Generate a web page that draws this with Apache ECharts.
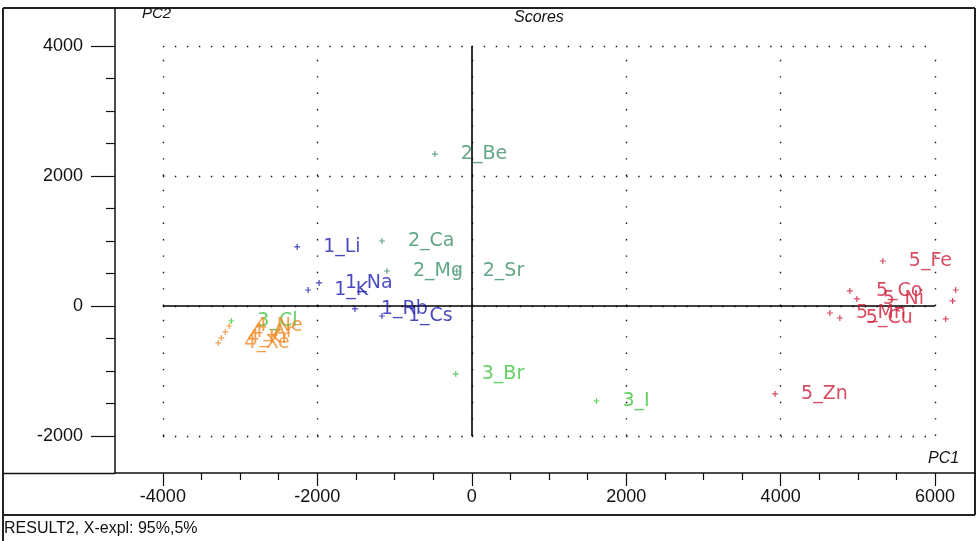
<!DOCTYPE html>
<html>
<head>
<meta charset="utf-8">
<script src="https://cdn.jsdelivr.net/npm/echarts@6.0.0/dist/echarts.min.js"></script>
<style>
html,body{margin:0;padding:0;background:#fff;}
#chart{width:977px;height:541px;}
</style>
</head>
<body>
<div id="chart"></div>
<script>
// ---- data ----
var names1 = ['1_Li', '1_K', '1_Na', '1_Rb', '1_Cs'];
var x1 = [-2261, -2119, -1977, -1512, -1163];
var y1 = [908, 246, 354, -46, -154];

var names2 = ['2_Be', '2_Ca', '2_Mg', '2_Sr'];
var x2 = [-478, -1163, -1098, -194];
var y2 = [2338, 1000, 538, 538];

var names3 = ['3_Cl', '3_Br', '3_I'];
var x3 = [-3114, -207, 1615];
var y3 = [-231, -1046, -1462];

var names4 = ['4_Ne', '4_Ar', '4_Kr', '4_Xe'];
var x4 = [-3140, -3191, -3243, -3282];
var y4 = [-308, -400, -492, -569];

var names5 = ['5_Fe', '5_Co', '5_Ni', '5_Mn', '5_Cu', '5_Zn', '', '', ''];
var x5 = [5323, 4897, 4987, 4638, 4767, 3928, 6266, 6227, 6137];
var y5 = [692, 231, 108, -108, -185, -1354, 246, 77, -200];

var xTicks = [-4000, -2000, 0, 2000, 4000, 6000];
var yTicks = [-2000, 0, 2000, 4000];
var xMinor = [-3500, -3000, -2500, -1500, -1000, -500, 500, 1000, 1500, 2500, 3000, 3500, 4500, 5000, 5500];
var yMinor = [-1500, -1000, -500, 500, 1000, 1500, 2500, 3000, 3500];

var xMin = -4620, xMax = 6517, yMin = -2570, yMax = 4585;

// ---- helpers ----
function pts(xs, ys, ns) {
  return xs.map(function (x, i) { return { name: ns[i], value: [x, ys[i]] }; });
}
var plus = 'path://M-0.6,-3H0.6V-0.6H3V0.6H0.6V3H-0.6V0.6H-3V-0.6H-0.6Z';
var labelFont = '"DejaVu Sans", "Liberation Sans", sans-serif';
var tickFont = '"Liberation Sans", sans-serif';
function group(ns, xs, ys, color) {
  return {
    type: 'scatter',
    symbol: plus,
    symbolSize: 6,
    itemStyle: { color: color },
    data: pts(xs, ys, ns),
    label: {
      show: true,
      position: 'right',
      distance: 23,
      formatter: function (p) { return p.name; },
      color: color,
      fontFamily: labelFont,
      fontSize: 19
    },
    silent: true,
    z: 5
  };
}
function plain(v) { return String(v); }

var dotStyle = { color: '#111', width: 1.4, type: [1.4, 10.6], cap: 'butt' };
var gridLines = [];
xTicks.forEach(function (x) {
  for (var i = 0; i < yTicks.length - 1; i++) {
    gridLines.push([{ coord: [x, yTicks[i]], lineStyle: { type: [1.4, 15] } }, { coord: [x, yTicks[i + 1]] }]);
  }
});
yTicks.forEach(function (y) {
  for (var i = 0; i < xTicks.length - 1; i++) {
    gridLines.push([{ coord: [xTicks[i], y] }, { coord: [xTicks[i + 1], y] }]);
  }
});
var axisCross = [
  [{ coord: [xTicks[0], 0] }, { coord: [xTicks[xTicks.length - 1], 0] }],
  [{ coord: [0, yTicks[0]] }, { coord: [0, yTicks[yTicks.length - 1]] }]
];

var chart = echarts.init(document.getElementById('chart'));
chart.setOption({
  animation: false,
  backgroundColor: '#fff',
  grid: { left: 115, top: 8, right: 2, bottom: 68 },
  xAxis: [
    {
      type: 'value', min: xMin, max: xMax,
      axisLine: { show: true, onZero: false, lineStyle: { color: '#111', width: 1.5 } },
      axisTick: { show: true, customValues: xTicks, length: 13, lineStyle: { color: '#111', width: 1.2 } },
      axisLabel: { customValues: xTicks, formatter: plain, margin: 15, color: '#111', fontFamily: tickFont, fontSize: 18 },
      splitLine: { show: false }
    },
    {
      type: 'value', min: xMin, max: xMax, position: 'bottom',
      axisLine: { show: false, onZero: false },
      axisTick: { show: true, customValues: xMinor, length: 7, lineStyle: { color: '#111', width: 1.2 } },
      axisLabel: { show: false },
      splitLine: { show: false }
    }
  ],
  yAxis: [
    {
      type: 'value', min: yMin, max: yMax,
      axisLine: { show: true, onZero: false, lineStyle: { color: '#111', width: 1.5 } },
      axisTick: { show: true, customValues: yTicks, length: 24, lineStyle: { color: '#111', width: 1.2 } },
      axisLabel: { customValues: yTicks, formatter: plain, margin: 32, color: '#111', fontFamily: tickFont, fontSize: 18 },
      splitLine: { show: false }
    },
    {
      type: 'value', min: yMin, max: yMax, position: 'left',
      axisLine: { show: false, onZero: false },
      axisTick: { show: true, customValues: yMinor, length: 9, lineStyle: { color: '#111', width: 1.2 } },
      axisLabel: { show: false },
      splitLine: { show: false }
    }
  ],
  graphic: [
    { type: 'line', shape: { x1: 3, y1: 8, x2: 975, y2: 8 }, style: { stroke: '#222', lineWidth: 2 } },
    { type: 'line', shape: { x1: 3, y1: 8, x2: 3, y2: 541 }, style: { stroke: '#222', lineWidth: 2 } },
    { type: 'line', shape: { x1: 975, y1: 8, x2: 975, y2: 515 }, style: { stroke: '#222', lineWidth: 2 } },
    { type: 'line', shape: { x1: 3, y1: 515, x2: 975, y2: 515 }, style: { stroke: '#222', lineWidth: 2 } },
    { type: 'line', shape: { x1: 3, y1: 473.5, x2: 115, y2: 473.5 }, style: { stroke: '#111', lineWidth: 1.5 } },
    { type: 'text', left: 514, top: 10, style: { text: 'Scores', font: 'italic 16px "Liberation Sans"', fill: '#111' } },
    { type: 'text', left: 142, top: 6, style: { text: 'PC2', font: 'italic 15px "Liberation Sans"', fill: '#111' } },
    { type: 'text', left: 928, top: 451, style: { text: 'PC1', font: 'italic 16px "Liberation Sans"', fill: '#111' } },
    { type: 'text', left: 4, top: 521, style: { text: 'RESULT2, X-expl: 95%,5%', font: '16px "Liberation Sans"', fill: '#111' } }
  ],
  series: [
    {
      type: 'line', data: [], silent: true, z: 1,
      markLine: {
        silent: true, symbol: 'none', animation: false,
        label: { show: false },
        lineStyle: dotStyle,
        data: gridLines
      }
    },
    {
      type: 'line', data: [], silent: true, z: 2,
      markLine: {
        silent: true, symbol: 'none', animation: false,
        label: { show: false },
        lineStyle: { color: '#000', width: 1.6, type: 'solid' },
        data: axisCross
      }
    },
    group(names1, x1, y1, '#1c1cb0'),
    group(names2, x2, y2, '#3a9066'),
    group(names3, x3, y3, '#3cc43c'),
    group(names4, x4, y4, '#f08a24'),
    group(names5, x5, y5, '#cf1e3a')
  ]
});
</script>
</body>
</html>
